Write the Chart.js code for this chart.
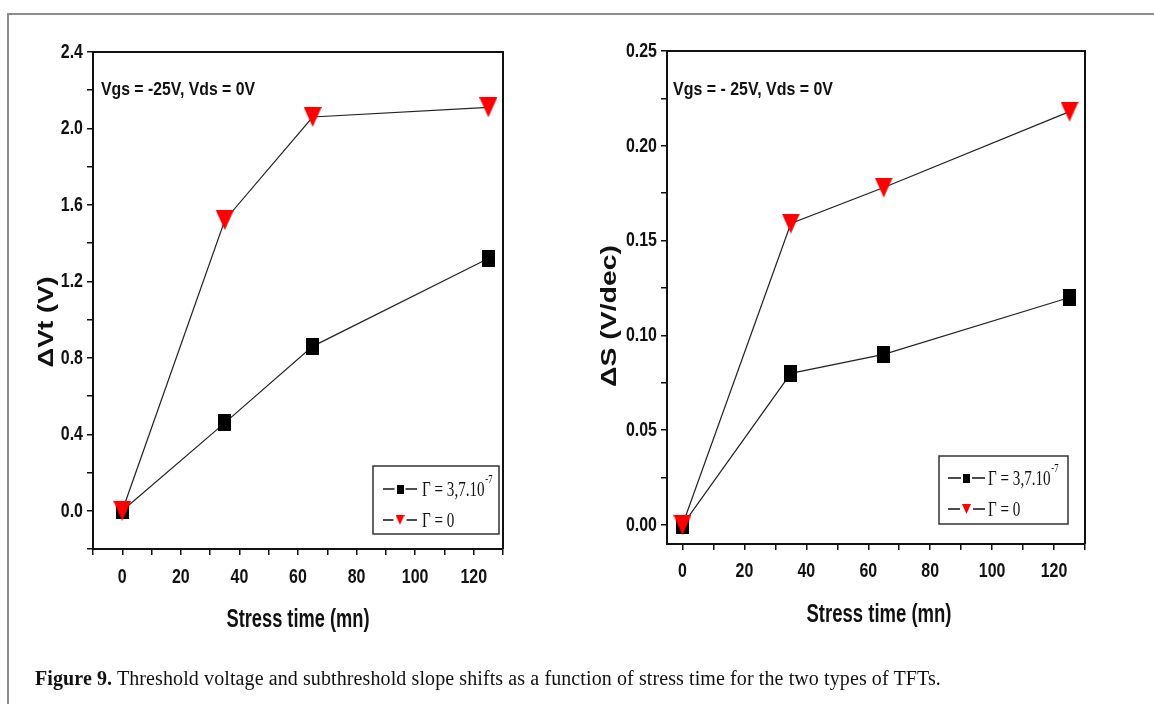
<!DOCTYPE html>
<html>
<head>
<meta charset="utf-8">
<script src="https://cdn.jsdelivr.net/npm/chart.js@4"></script>
<style>
  html, body { margin: 0; padding: 0; background: #fff; }
  body { width: 1154px; height: 704px; position: relative; overflow: hidden; }
  #frame { position: absolute; left: 7px; top: 13px; right: -10px; bottom: -10px;
           border-top: 2px solid #8c8c8c; border-left: 2px solid #8c8c8c; }
  canvas { position: absolute; top: 0; }
  #leftChart { left: 0; }
  #rightChart { left: 577px; }
  #caption { position: absolute; left: 35px; top: 667px; font: 20px 'Liberation Serif', serif;
             letter-spacing: 0.1px; color: #111; white-space: nowrap; }
</style>
</head>
<body>
<div id="frame"></div>
<canvas id="leftChart" width="577" height="704"></canvas>
<canvas id="rightChart" width="577" height="704"></canvas>
<div id="caption"><b>Figure 9.</b> Threshold voltage and subthreshold slope shifts as a function of stress time for the two types of TFTs.</div>
<script>
// Data
const stressTime = [0, 35, 65, 125];
const dVtGamma = [0, 0.46, 0.86, 1.32];
const dVtZero = [0, 1.52, 2.06, 2.11];
const dSGamma = [0, 0.080, 0.090, 0.120];
const dSZero = [0, 0.159, 0.178, 0.218];
const seriesNames = ['\u0393 = 3,7.10', '\u0393 = 0'];
const seriesSup = ['-7', ''];
const xTickLabels = [0, 20, 40, 60, 80, 100, 120];
const vtTickLabels = [0.0, 0.4, 0.8, 1.2, 1.6, 2.0, 2.4];
const sTickLabels = [0.00, 0.05, 0.10, 0.15, 0.20, 0.25];

const sans = "'Liberation Sans', Arial, sans-serif";
const serif = "'Liberation Serif', 'Times New Roman', serif";

// Marker images
function marker(kind, w, h) {
    const c = document.createElement('canvas');
    c.width = w; c.height = h;
    const g = c.getContext('2d');
    if (kind === 'square') {
        g.fillStyle = '#000';
        g.fillRect(0, 0, w, h);
    } else {
        g.fillStyle = '#ff0000';
        g.beginPath();
        g.moveTo(0, 0); g.lineTo(w, 0); g.lineTo(w / 2, h);
        g.closePath(); g.fill();
    }
    return c;
}
const bigSquare = marker('square', 13, 17);
const bigTri = marker('tri', 18, 20);
const smallSquare = marker('square', 7, 9);
const smallTri = marker('tri', 9, 10);

// text squeezed to a scale or stretched to a target width
function drawText(ctx, text, x, y, o) {
    ctx.save();
    ctx.font = o.font;
    ctx.translate(x, y);
    if (o.rotate) ctx.rotate(o.rotate);
    const w = ctx.measureText(text).width;
    ctx.scale(o.width ? o.width / w : (o.scale || 1), 1);
    ctx.textAlign = o.align || 'left';
    ctx.textBaseline = o.baseline || 'middle';
    ctx.fillStyle = '#111';
    ctx.fillText(text, 0, 0);
    ctx.restore();
}

// Frame, labels, note and legend box
const decor = {
    id: 'decor',
    afterDraw(chart, args, o) {
        const {ctx, chartArea: a} = chart;
        const xs = chart.scales.x, ys = chart.scales.y;
        ctx.save();
        ctx.strokeStyle = '#111';
        ctx.lineWidth = 2;
        ctx.beginPath();
        ctx.moveTo(a.left, a.top);
        ctx.lineTo(a.right, a.top);
        ctx.lineTo(a.right, a.bottom);
        ctx.stroke();

        // tick labels
        const tickFont = 'bold 21px ' + sans;
        xTickLabels.forEach(v => {
            drawText(ctx, String(v), xs.getPixelForValue(v), a.bottom + o.xLabelDy,
                     {font: tickFont, scale: 0.76, align: 'center'});
        });
        o.yTicks.forEach(v => {
            drawText(ctx, v.toFixed(o.yDigits), a.left - 10, ys.getPixelForValue(v),
                     {font: tickFont, scale: 0.76, align: 'right'});
        });

        // axis titles
        drawText(ctx, 'Stress time (mn)', o.xTitle[0], o.xTitle[1],
                 {font: 'bold 25px ' + sans, width: o.xTitle[2], align: 'center'});
        drawText(ctx, o.yTitle, o.yTitlePos[0], o.yTitlePos[1],
                 {font: 'bold 22px ' + sans, width: o.yTitlePos[2], align: 'center', rotate: -Math.PI / 2});

        // note
        drawText(ctx, o.note, a.left + o.noteX, a.top + o.noteY,
                 {font: 'bold 19px ' + sans, width: o.noteW, baseline: 'alphabetic'});

        // legend
        const bx = a.right - o.boxRight - o.boxW;
        const by = a.bottom - o.boxBottom - o.boxH;
        ctx.lineWidth = 1.5;
        ctx.strokeStyle = '#333';
        ctx.strokeRect(bx, by, o.boxW, o.boxH);
        const icons = [smallSquare, smallTri];
        seriesNames.forEach((name, i) => {
            const y = by + o.rows[i];
            const x0 = bx + o.sampleX;
            ctx.strokeStyle = '#111';
            ctx.lineWidth = 1.5;
            ctx.beginPath();
            ctx.moveTo(x0, y); ctx.lineTo(x0 + o.sampleW, y);
            ctx.stroke();
            const ic = icons[i];
            ctx.fillStyle = '#fff';
            ctx.fillRect(x0 + o.sampleW / 2 - ic.width / 2 - 2, y - 2, ic.width + 4, 4);
            ctx.drawImage(ic, x0 + o.sampleW / 2 - ic.width / 2, y - ic.height / 2);
            ctx.save();
            ctx.translate(bx + o.textX, y);
            ctx.scale(0.72, 1);
            ctx.fillStyle = '#111';
            ctx.font = '21px ' + serif;
            ctx.textBaseline = 'middle';
            ctx.fillText(name, 0, 1);
            const w = ctx.measureText(name).width;
            if (seriesSup[i]) {
                ctx.font = '12px ' + serif;
                ctx.fillText(seriesSup[i], w + 1, -9);
            }
            ctx.restore();
        });
        ctx.restore();
    }
};

function pts(vals) {
    return stressTime.map((t, i) => ({x: t, y: vals[i]}));
}

function makeChart(id, cfg) {
    return new Chart(document.getElementById(id), {
        type: 'line',
        data: {
            datasets: [
                {
                    label: seriesNames[0],
                    data: pts(cfg.gamma),
                    borderColor: '#222',
                    borderWidth: 1.2,
                    pointStyle: bigSquare,
                    pointRadius: 8,
                    order: 1
                },
                {
                    label: seriesNames[1],
                    data: pts(cfg.zero),
                    borderColor: '#222',
                    borderWidth: 1.2,
                    pointStyle: bigTri,
                    pointRadius: 8,
                    order: 0
                }
            ]
        },
        options: {
            responsive: false,
            animation: false,
            layout: {padding: cfg.padding},
            plugins: {
                legend: {display: false},
                tooltip: {enabled: false},
                decor: cfg.decor
            },
            scales: {
                x: {
                    type: 'linear',
                    min: cfg.xMin,
                    max: 130,
                    afterFit: s => { s.height = cfg.xH; },
                    ticks: {stepSize: 10, autoSkip: false, includeBounds: false, display: false},
                    grid: {drawOnChartArea: false, tickLength: 6, color: '#111', lineWidth: 1.5},
                    border: {display: true, color: '#111', width: 2}
                },
                y: {
                    min: cfg.yMin,
                    max: cfg.yMax,
                    afterFit: s => { s.width = cfg.yW; },
                    ticks: {stepSize: cfg.yStep, autoSkip: false, includeBounds: false, display: false},
                    grid: {drawOnChartArea: false, tickLength: 6, color: '#111', lineWidth: 1.5},
                    border: {display: true, color: '#111', width: 2}
                }
            }
        },
        plugins: [decor]
    });
}

makeChart('leftChart', {
    gamma: dVtGamma,
    zero: dVtZero,
    xMin: -10,
    yMin: -0.2,
    yMax: 2.4,
    yStep: 0.2,
    padding: {left: 30, top: 52, right: 74, bottom: 66},
    yW: 63,
    xH: 89,
    decor: {
        yTicks: vtTickLabels, yDigits: 1, xLabelDy: 28,
        xTitle: [298, 620, 143], yTitle: '\u0394Vt (V)', yTitlePos: [47, 322, 91],
        note: 'Vgs = -25V, Vds = 0V', noteX: 8, noteY: 43, noteW: 154,
        boxW: 126, boxH: 68, boxRight: 4, boxBottom: 15,
        rows: [23, 54], sampleX: 10, sampleW: 34, textX: 49
    }
});

makeChart('rightChart', {
    gamma: dSGamma,
    zero: dSZero,
    xMin: -5,
    yMin: -0.01,
    yMax: 0.25,
    yStep: 0.025,
    padding: {left: 10, top: 51, right: 69, bottom: 71},
    yW: 80,
    xH: 89,
    decor: {
        yTicks: sTickLabels, yDigits: 2, xLabelDy: 27,
        xTitle: [302, 615, 145], yTitle: '\u0394S (V/dec)', yTitlePos: [33, 316, 142],
        note: 'Vgs = - 25V, Vds = 0V', noteX: 6, noteY: 44, noteW: 160,
        boxW: 129, boxH: 68, boxRight: 17, boxBottom: 20,
        rows: [22, 53], sampleX: 9, sampleW: 37, textX: 49
    }
});
</script>
</body>
</html>
